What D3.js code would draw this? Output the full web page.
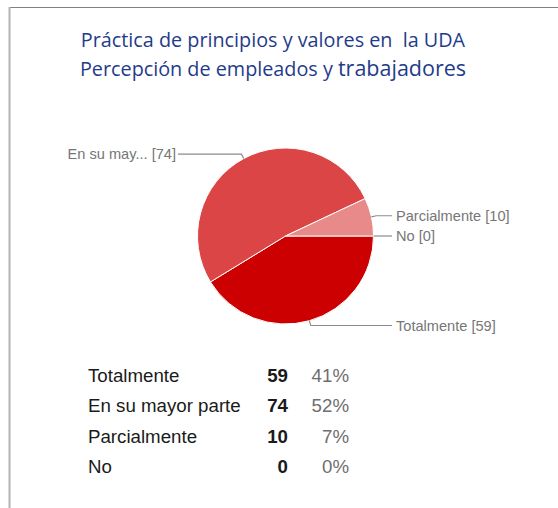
<!DOCTYPE html>
<html>
<head>
<meta charset="utf-8">
<script src="https://cdn.jsdelivr.net/npm/d3@7"></script>
<style>
  body { margin: 0; background: #fff; }
</style>
</head>
<body>
<div id="chart"></div>
<script>
// datos
var titleLines = ["Práctica de principios y valores en  la UDA", "Percepción de empleados y "];
var titleTail = "trabajadores";
var categories = ["Totalmente", "En su mayor parte", "Parcialmente", "No"];
var pieLabels = ["Totalmente", "En su may...", "Parcialmente", "No"];
var values = [59, 74, 10, 0];
var colors = ["#cc0000", "#dc4545", "#e88a8a", "#f2c0c0"];

var width = 558, height = 508;
var cx = 285.5, cy = 236, radius = 88;

var svg = d3.select("#chart")
    .append("svg")
    .attr("width", width)
    .attr("height", height)
    .attr("font-family", "Arial, 'Liberation Sans', sans-serif");

// marco
svg.append("line")
    .attr("x1", 9).attr("x2", width)
    .attr("y1", 7.5).attr("y2", 7.5)
    .attr("stroke", "#808080").attr("stroke-width", 1.2);
svg.append("line")
    .attr("x1", 9.5).attr("x2", 9.5)
    .attr("y1", 7).attr("y2", height)
    .attr("stroke", "#b4b4b4").attr("stroke-width", 2);

// titulo
var title = svg.append("text")
    .attr("text-anchor", "middle")
    .attr("fill", "#1f3c8a")
    .attr("font-family", "'Open Sans', 'Noto Sans', sans-serif")
    .attr("font-size", 19.8)
    .style("white-space", "pre");
title.append("tspan").attr("x", 273).attr("y", 47).text(titleLines[0]);
title.append("tspan").attr("x", 273).attr("y", 76).text(titleLines[1]);
title.append("tspan").attr("font-size", 21.5).text(titleTail);

// pastel
var total = d3.sum(values);
var pie = d3.pie()
    .sort(null)
    .startAngle(Math.PI / 2)
    .endAngle(Math.PI / 2 + 2 * Math.PI);
var arcs = pie(values);
var arc = d3.arc().innerRadius(0).outerRadius(radius);

var g = svg.append("g").attr("transform", "translate(" + cx + "," + cy + ")");
g.selectAll("path")
    .data(arcs)
    .enter()
    .append("path")
    .attr("d", arc)
    .attr("fill", (d, i) => colors[i])
    .attr("stroke", "#fff")
    .attr("stroke-width", d => d.value > 0 ? 1 : 0);

// etiquetas del pastel
var rightX = 392, leftX = 178;
var lbl = g.selectAll("g.lbl")
    .data(arcs)
    .enter()
    .append("g");
lbl.each(function(d, i) {
    var a = (d.startAngle + d.endAngle) / 2;
    var p0 = [radius * Math.sin(a), -radius * Math.cos(a)];
    var p1 = [(radius + 5) * Math.sin(a), -(radius + 5) * Math.cos(a)];
    var right = Math.sin(a) >= -0.001;
    var xEnd = (right ? rightX : leftX) - cx;
    var sel = d3.select(this);
    sel.append("path")
        .attr("d", d3.line()([p0, p1, [xEnd, p1[1]]]))
        .attr("fill", "none")
        .attr("stroke", "#8c8c8c")
        .attr("stroke-width", 1.2);
    sel.append("text")
        .attr("x", xEnd + (right ? 4 : -2))
        .attr("y", p1[1])
        .attr("dy", "0.36em")
        .attr("text-anchor", right ? "start" : "end")
        .attr("font-size", 14.6)
        .attr("fill", "#767676")
        .text(pieLabels[i] + " [" + d.value + "]");
});

// tabla
var rowY = d3.scalePoint()
    .domain(categories)
    .range([382, 473]);
var rows = svg.append("g").selectAll("g")
    .data(categories)
    .enter()
    .append("g")
    .attr("transform", d => "translate(0," + rowY(d) + ")")
    .attr("font-size", 18.7);
rows.append("text")
    .attr("x", 88)
    .attr("fill", "#1a1a1a")
    .text(d => d);
rows.append("text")
    .attr("x", 288)
    .attr("text-anchor", "end")
    .attr("font-weight", "bold")
    .attr("fill", "#1a1a1a")
    .text((d, i) => values[i]);
rows.append("text")
    .attr("x", 349)
    .attr("text-anchor", "end")
    .attr("fill", "#6e6e6e")
    .text((d, i) => Math.round(values[i] / total * 100) + "%");
</script>
</body>
</html>
